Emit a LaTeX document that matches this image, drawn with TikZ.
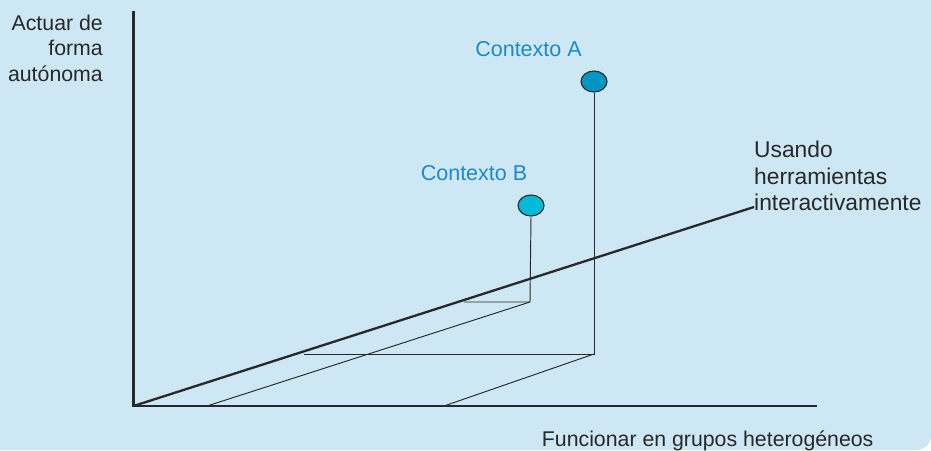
\documentclass[tikz,border=0pt]{standalone}
\usepackage{fontspec}
\setmainfont{Liberation Sans}
\usetikzlibrary{shapes.geometric}
\definecolor{bgblue}{RGB}{205,232,244}
\definecolor{ink}{RGB}{40,40,42}
\definecolor{ctxblue}{RGB}{28,138,204}
\definecolor{fillA}{RGB}{0,150,196}
\definecolor{fillB}{RGB}{0,186,216}
\tikzset{
  axis/.style={draw=ink, line width=2.3pt},
  guide/.style={draw=ink, line width=0.95pt},
  dot/.style={ellipse, draw=ink, line width=1.1pt, minimum width=26pt, minimum height=21pt, inner sep=0pt},
  lbl/.style={text=ink, font=\fontsize{21.3}{25.8}\selectfont, inner sep=0pt},
  lblz/.style={text=ink, font=\fontsize{22.8}{26.5}\selectfont, inner sep=0pt},
  ctx/.style={text=ctxblue, font=\fontsize{21.5}{26}\selectfont, inner sep=0pt}
}
\begin{document}
\begin{tikzpicture}[x=1pt,y=-1pt]
\fill[bgblue] (0,0) -- (931,0) -- (931,436) arc[start angle=0,end angle=90,radius=14] -- (0,450) -- cycle;
\useasboundingbox (0,0) rectangle (931,450);
% coordinates
\coordinate (O) at (133.5,406);
\coordinate (Yt) at (133.5,10.5);
\coordinate (Xe) at (817,406);
\coordinate (Ze) at (754,207);
\coordinate (aF) at (594,354);
\coordinate (aH) at (304,354);
\coordinate (aX) at (444,406);
\coordinate (bF) at (530,302);
\coordinate (bH) at (464,302);
\coordinate (bX) at (207,406);
% points
\node[dot, fill=fillA] (cA) at (594,81.5) {};
\node[dot, fill=fillB] (cB) at (531,205.5) {};
% guide lines
\draw[guide] (cA.south) -- (aF) -- (aH);
\draw[guide] (aF) -- (aX);
\draw[guide] (cB.south) -- (bF) -- (bH);
\draw[guide] (bF) -- (bX);
% axes
\draw[axis] (Yt) -- (O) -- (Xe);
\draw[axis] (O) -- (Ze);
% labels
\node[ctx, anchor=base] (tA) at (528.5,56) {Contexto A};
\node[ctx, anchor=base] (tB) at (474,180) {Contexto B};
\node[lbl, anchor=base east, align=right] (ty) at (103,81.7) {Actuar de\\forma\\autónoma};
\node[lblz, anchor=base west, align=left] (tz) at (754,210.7) {Usando\\herramientas\\interactivamente};
\node[lbl, anchor=base west] (tx) at (541.7,446) {Funcionar en grupos heterogéneos};
\end{tikzpicture}
\end{document}
